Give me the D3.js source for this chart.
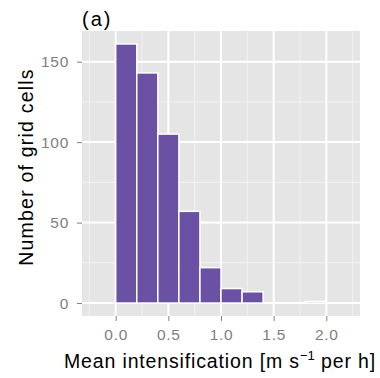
<!DOCTYPE html>
<html>
<head>
<meta charset="utf-8">
<script src="https://cdn.jsdelivr.net/npm/d3@7"></script>
<style>
  body { margin: 0; background: #fff; }
  text { font-family: 'Liberation Sans', Arial, sans-serif; }
</style>
</head>
<body>
<svg id="chart" width="380" height="378"></svg>
<script>
// histogram bins (left edge) and counts
const binStarts = [-0.2, 0, 0.2, 0.4, 0.6, 0.8, 1.0, 1.2, 1.4, 1.6, 1.8, 2.0]
const binWidth = 0.2
const counts = [0, 161, 143, 105, 57, 22, 9, 7, 0, 0, 1, 0]
const xTicks = [0, 0.5, 1.0, 1.5, 2.0]
const xMinor = [-0.25, 0.25, 0.75, 1.25, 1.75, 2.25]
const yTicks = [0, 50, 100, 150]
const yMinor = [25, 75, 125]

const panel = { left: 82, right: 360, top: 31, bottom: 316 }

const svg = d3.select('#chart')

const xLo = binStarts[0], xHi = binStarts[binStarts.length - 1] + binWidth
const xPad = (xHi - xLo) * 0.05
const x = d3.scaleLinear().domain([xLo - xPad, xHi + xPad]).range([panel.left, panel.right])
const yMax = d3.max(counts)
const y = d3.scaleLinear().domain([-yMax * 0.05, yMax * 1.05]).range([panel.bottom, panel.top])

// panel background
svg.append('rect')
  .attr('x', panel.left).attr('y', panel.top)
  .attr('width', panel.right - panel.left).attr('height', panel.bottom - panel.top)
  .attr('fill', '#e5e5e5')

// minor grid
const grid = svg.append('g')
grid.selectAll('.vminor').data(xMinor).enter().append('line')
  .attr('x1', d => x(d)).attr('x2', d => x(d))
  .attr('y1', panel.top).attr('y2', panel.bottom)
  .attr('stroke', '#f2f2f2').attr('stroke-width', 1)
grid.selectAll('.hminor').data(yMinor).enter().append('line')
  .attr('y1', d => y(d)).attr('y2', d => y(d))
  .attr('x1', panel.left).attr('x2', panel.right)
  .attr('stroke', '#f2f2f2').attr('stroke-width', 1)

// major grid
grid.selectAll('.vmajor').data(xTicks).enter().append('line')
  .attr('x1', d => x(d)).attr('x2', d => x(d))
  .attr('y1', panel.top).attr('y2', panel.bottom)
  .attr('stroke', '#fff').attr('stroke-width', 2)
grid.selectAll('.hmajor').data(yTicks).enter().append('line')
  .attr('y1', d => y(d)).attr('y2', d => y(d))
  .attr('x1', panel.left).attr('x2', panel.right)
  .attr('stroke', '#fff').attr('stroke-width', 2)

// bars
svg.append('g').selectAll('rect')
  .data(binStarts.map((s, i) => ({ s, n: counts[i] })))
  .enter().append('rect')
  .attr('x', d => x(d.s))
  .attr('width', d => x(d.s + binWidth) - x(d.s))
  .attr('y', d => y(d.n))
  .attr('height', d => y(0) - y(d.n))
  .attr('fill', '#6a51a3')
  .attr('stroke', '#fff')
  .attr('stroke-width', 1.5)

// axes
const xAxis = svg.append('g')
  .attr('transform', `translate(0,${panel.bottom})`)
  .call(d3.axisBottom(x).tickValues(xTicks).tickFormat(d3.format('.1f')).tickSize(5).tickPadding(8))
const yAxis = svg.append('g')
  .attr('transform', `translate(${panel.left},0)`)
  .call(d3.axisLeft(y).tickValues(yTicks).tickSize(5).tickPadding(8))

;[xAxis, yAxis].forEach(a => {
  a.select('.domain').remove()
  a.selectAll('line').attr('stroke', '#7f7f7f')
  a.selectAll('text').attr('fill', '#7f7f7f').attr('font-size', 15.5)
    .attr('letter-spacing', 0.7)
    .attr('font-family', "'Liberation Sans', Arial, sans-serif")
})

// titles
svg.append('text')
  .attr('x', 82).attr('y', 26)
  .attr('font-size', 20)
  .attr('letter-spacing', 2)
  .text('(a)')

const xl = svg.append('text')
  .attr('x', 220).attr('y', 368)
  .attr('text-anchor', 'middle')
  .attr('font-size', 19.5)
  .attr('letter-spacing', 0.85)
xl.append('tspan').text('Mean intensification [m s')
xl.append('tspan').attr('dy', -8).attr('font-size', 13).attr('letter-spacing', 0).text('\u22121')
xl.append('tspan').attr('dy', 8).text(' per h]')

svg.append('text')
  .attr('transform', `translate(33,167) rotate(-90)`)
  .attr('text-anchor', 'middle')
  .attr('font-size', 19.5)
  .attr('letter-spacing', 1.2)
  .text('Number of grid cells')
</script>
</body>
</html>
